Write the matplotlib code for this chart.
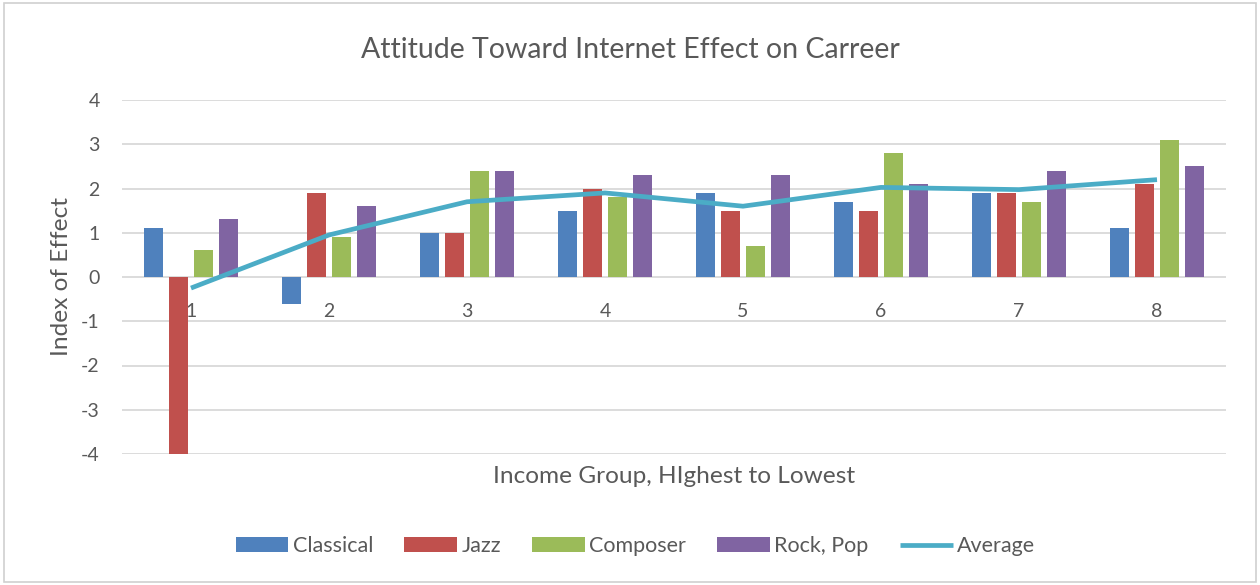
import matplotlib.pyplot as plt
from matplotlib.patches import Rectangle
import numpy as np

groups = ['1', '2', '3', '4', '5', '6', '7', '8']
classical = [1.1, -0.6, 1.0, 1.5, 1.9, 1.7, 1.9, 1.1]
jazz = [-4.0, 1.9, 1.0, 2.0, 1.5, 1.5, 1.9, 2.1]
composer = [0.6, 0.9, 2.4, 1.8, 0.7, 2.8, 1.7, 3.1]
rock_pop = [1.3, 1.6, 2.4, 2.3, 2.3, 2.1, 2.4, 2.5]
average = [-0.25, 0.95, 1.7, 1.9, 1.6, 2.025, 1.975, 2.2]

plt.rcParams['font.family'] = ['Lato', 'DejaVu Sans']
plt.rcParams['axes.unicode_minus'] = False
txt = '#595959'
grid_c = '#D9D9D9'

fig = plt.figure(figsize=(12.6, 5.85), dpi=100)
ax = fig.add_axes([122 / 1260, 1 - 454 / 585, (1226 - 122) / 1260, (454 - 100) / 585])

# light frame round the whole chart
fig.patches.append(Rectangle((0.003, 0.005), 0.994, 0.99, transform=fig.transFigure,
                             fill=False, edgecolor='#D0D0D0', linewidth=1.2))

x = np.arange(1, len(groups) + 1)
step = 0.181
w = 0.1375
series = [('Classical', classical, '#4F81BD'),
          ('Jazz', jazz, '#C0504D'),
          ('Composer', composer, '#9BBB59'),
          ('Rock, Pop', rock_pop, '#8064A2')]
handles = []
for i, (name, vals, col) in enumerate(series):
    b = ax.bar(x + (i - 1.5) * step, vals, width=w, color=col, label=name, zorder=2)
    handles.append(b)

ln, = ax.plot(x, average, color='#4BACC6', linewidth=3.4, label='Average', zorder=3,
              solid_capstyle='butt')
handles.append(ln)

ax.set_xlim(0.5, 8.5)
ax.set_ylim(-4, 4)
ax.set_yticks(range(-4, 5))
ax.grid(axis='y', color=grid_c, linewidth=1.3, zorder=0)
ax.set_axisbelow(True)
for s in ax.spines.values():
    s.set_visible(False)

# category labels sit just under the zero line, as in Excel
ax.spines['bottom'].set_position(('data', 0))
ax.set_xticks(x)
ax.set_xticklabels(groups)
ax.tick_params(axis='x', length=0, pad=19, labelsize=14, labelcolor=txt)
ax.tick_params(axis='y', length=0, pad=16, labelsize=14, labelcolor=txt)

ax.set_xlabel('Income Group, HIghest to Lowest', fontsize=17.6, color=txt)
ax.xaxis.set_label_coords(0.5, -0.035)
ax.set_ylabel('Index of Effect', fontsize=17.6, color=txt)
ax.yaxis.set_label_coords(-0.045, 0.5)

fig.text(0.5, 1 - 50 / 585, 'Attitude Toward Internet Effect on Carreer',
         ha='center', va='center', fontsize=20.5, color=txt)

ax.legend(handles=handles, loc='center', bbox_to_anchor=(0.465, -0.26), ncol=5,
          frameon=False, fontsize=15.5, labelcolor=txt, handlelength=2.45,
          handleheight=0.65, columnspacing=1.45, handletextpad=0.2)

fig.savefig('out.png', dpi=100)
